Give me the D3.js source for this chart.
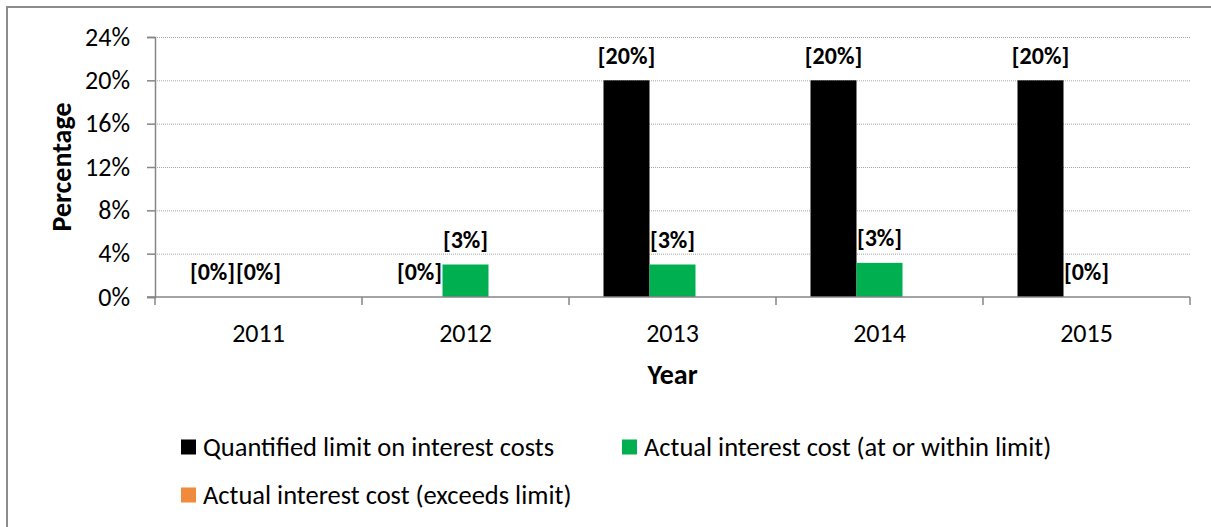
<!DOCTYPE html>
<html>
<head>
<meta charset="utf-8">
<script src="https://cdn.jsdelivr.net/npm/d3@7"></script>
<style>
body { margin: 0; background: #fff; }
text { font-family: Carlito, Calibri, Lato, sans-serif; fill: #000; }
</style>
</head>
<body>
<script>
// chart values
var years = ['2011', '2012', '2013', '2014', '2015'];
var series_names = ['Quantified limit on interest costs', 'Actual interest cost (at or within limit)', 'Actual interest cost (exceeds limit)'];
var limit_values = [0, 0, 20, 20, 20];
var within_values = [0, 3, 3, 3.15, 0];
var exceeds_values = [null, null, null, null, null];
var y_ticks = [0, 4, 8, 12, 16, 20, 24];
var colors = ['#000000', '#00b050', '#f08a3c'];

var svg_width = 1211, svg_height = 527;
var left = 155, right = 1190, top_y = 37, bottom = 297;

function plot_it() {
	var svg = d3.select('body')
		.append('svg')
		.attr('width', svg_width)
		.attr('height', svg_height);

	// outer chart frame (runs past the picture on right and bottom)
	svg.append('rect')
		.attr('x', 7).attr('y', 7)
		.attr('width', 1230).attr('height', 540)
		.attr('fill', 'white').attr('stroke', '#8c8c8c').attr('stroke-width', 2);

	var xScale = d3.scaleBand()
					.domain(years)
					.range([left, right]);
	// group of 3 bars takes 2/3 of the category (gap width 50%)
	var barW = xScale.bandwidth() / 4.5;
	var yScale = d3.scaleLinear()
					.domain([0, 24])
					.range([bottom, top_y]);

	// gridlines
	svg.append('g').attr('id', 'grid')
		.selectAll('line')
		.data(y_ticks.slice(1))
		.enter()
		.append('line')
		.attr('x1', left).attr('x2', right)
		.attr('y1', d => yScale(d) + 0.5).attr('y2', d => yScale(d) + 0.5)
		.attr('stroke', '#a6a6a6').attr('stroke-width', 1)
		.attr('stroke-dasharray', '1,1');

	// bars
	var all_series = [limit_values, within_values, exceeds_values];
	var bars = [];
	all_series.forEach(function(vals, s){
		vals.forEach(function(v, i){
			bars.push({year: years[i], series: s, value: v});
		});
	});

	function barX(d){
		var groupStart = xScale(d.year) + (xScale.bandwidth() - 3 * barW) / 2;
		return groupStart + d.series * barW;
	}

	svg.append('g').attr('id', 'bars')
		.selectAll('rect')
		.data(bars.filter(d => d.value != null && d.value > 0))
		.enter()
		.append('rect')
		.attr('x', d => barX(d))
		.attr('width', barW)
		.attr('y', d => yScale(d.value))
		.attr('height', d => yScale(0) - yScale(d.value))
		.attr('fill', d => colors[d.series]);

	// y axis
	var yAxis = d3.axisLeft(yScale)
					.tickValues(y_ticks)
					.tickSize(8)
					.tickFormat(d => d + '%');
	var gy = svg.append('g')
		.attr('id', 'yaxis')
		.attr('transform', 'translate(' + left + ',0)')
		.call(yAxis);
	gy.select('.domain').attr('stroke', '#868686').attr('stroke-width', 1.5);
	gy.selectAll('.tick line').attr('stroke', '#868686').attr('stroke-width', 1.5);
	gy.selectAll('.tick text')
		.attr('x', -25)
		.attr('font-size', '26px')
		.attr('font-family', 'Carlito, Calibri, Lato, sans-serif');

	// x axis with ticks at category boundaries
	var gx = svg.append('g')
		.attr('id', 'xaxis')
		.attr('transform', 'translate(0,' + bottom + ')');
	gx.append('line')
		.attr('x1', left - 8).attr('x2', right)
		.attr('y1', 0).attr('y2', 0)
		.attr('stroke', '#868686').attr('stroke-width', 1.5);
	var bounds = years.map(d => xScale(d)).concat([right]);
	gx.selectAll('.btick')
		.data(bounds)
		.enter()
		.append('line')
		.attr('class', 'btick')
		.attr('x1', d => d).attr('x2', d => d)
		.attr('y1', 0).attr('y2', 8)
		.attr('stroke', '#868686').attr('stroke-width', 1.5);
	gx.selectAll('.xlabel')
		.data(years)
		.enter()
		.append('text')
		.attr('class', 'xlabel')
		.attr('x', d => xScale(d) + xScale.bandwidth() / 2)
		.attr('y', 36)
		.attr('dy', '0.35em')
		.attr('text-anchor', 'middle')
		.attr('font-size', '26px')
		.text(d => d);

	// data labels
	svg.append('g').attr('id', 'labels')
		.selectAll('text')
		.data(bars.filter(d => d.value != null))
		.enter()
		.append('text')
		.attr('x', d => barX(d) + barW / 2)
		.attr('y', d => yScale(d.value) - 25)
		.attr('dy', '0.35em')
		.attr('text-anchor', 'middle')
		.attr('font-size', '24px')
		.attr('font-weight', 'bold')
		.text(d => '[' + Math.round(d.value) + '%]');

	// axis titles
	svg.append('text')
		.attr('transform', 'translate(61,' + (top_y + bottom) / 2 + ') rotate(-90)')
		.attr('dy', '0.35em')
		.attr('text-anchor', 'middle')
		.attr('font-size', '28px')
		.attr('font-weight', 'bold')
		.text('Percentage');
	svg.append('text')
		.attr('x', (left + right) / 2)
		.attr('y', 374)
		.attr('dy', '0.35em')
		.attr('text-anchor', 'middle')
		.attr('font-size', '28px')
		.attr('font-weight', 'bold')
		.text('Year');

	// legend
	var legend_pos = [[181, 447], [622, 447], [181, 495]];
	var legend = svg.append('g').attr('id', 'legend')
		.selectAll('g')
		.data(series_names)
		.enter()
		.append('g')
		.attr('transform', (d, i) => 'translate(' + legend_pos[i][0] + ',' + legend_pos[i][1] + ')');
	legend.append('rect')
		.attr('x', 0).attr('y', -7.5)
		.attr('width', 15).attr('height', 15)
		.attr('fill', (d, i) => colors[i]);
	legend.append('text')
		.attr('x', 22)
		.attr('y', 0)
		.attr('dy', '0.35em')
		.attr('font-size', '26.5px')
		.text(d => d);
}

plot_it();
</script>
</body>
</html>
